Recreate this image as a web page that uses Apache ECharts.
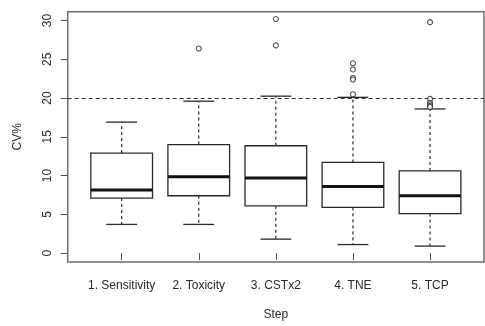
<!DOCTYPE html>
<html><head><meta charset="utf-8">
<script src="https://cdn.jsdelivr.net/npm/echarts@6/dist/echarts.min.js"></script>
<style>html,body{margin:0;padding:0;background:#fff}#c{width:485px;height:326px}</style>
</head><body><div id="c"></div>
<script>
const categories = ['1. Sensitivity', '2. Toxicity', '3. CSTx2', '4. TNE', '5. TCP'];
const lowerWhisker = [3.7, 3.7, 1.8, 1.1, 0.9];
const q1 = [7.1, 7.4, 6.1, 5.9, 5.1];
const median = [8.15, 9.85, 9.7, 8.6, 7.4];
const q3 = [12.9, 14.0, 13.85, 11.7, 10.6];
const upperWhisker = [16.9, 19.6, 20.25, 20.1, 18.6];
const outlierCat = [2, 3, 3, 4, 4, 4, 4, 4, 5, 5, 5, 5, 5, 5];
const outlierVal = [26.4, 30.2, 26.8, 24.5, 23.7, 22.6, 22.4, 20.5, 29.8, 19.9, 19.4, 19.2, 19.0, 18.85];
const yTicks = [0, 5, 10, 15, 20, 25, 30];
const xTicks = [1, 2, 3, 4, 5];
const threshold = 20;

const boxData = categories.map((c, i) => [i + 1, lowerWhisker[i], q1[i], median[i], q3[i], upperWhisker[i]]);
const outData = outlierCat.map((c, i) => [c, outlierVal[i]]);

const chart = echarts.init(document.getElementById('c'), null, {renderer: 'canvas'});
const font = 'Liberation Sans, Arial, sans-serif';
const ink = '#2a2a2a';

chart.setOption({
  animation: false,
  grid: {left: 67.7, right: 1, top: 11.7, bottom: 59.3, show: true, borderColor: '#6e6e6e', borderWidth: 1.5, backgroundColor: 'transparent'},
  xAxis: {
    type: 'value', min: 0.3, max: 5.7,
    name: 'Step', nameLocation: 'middle', nameGap: 47,
    nameTextStyle: {fontFamily: font, fontSize: 12, color: ink},
    axisLine: {show: false},
    splitLine: {show: false},
    axisTick: {show: true, length: 7, customValues: xTicks, lineStyle: {color: '#555'}},
    axisLabel: {customValues: xTicks, margin: 18, fontFamily: font, fontSize: 12, color: ink,
      formatter: v => categories[Math.round(v) - 1] || ''}
  },
  yAxis: {
    type: 'value', min: -1.15, max: 31.15,
    name: 'CV%', nameLocation: 'middle', nameGap: 44, nameRotate: 90,
    nameTextStyle: {fontFamily: font, fontSize: 12, color: ink},
    axisLine: {show: false},
    splitLine: {show: false},
    axisTick: {show: true, length: 7, customValues: yTicks, lineStyle: {color: '#555'}},
    axisLabel: {customValues: yTicks, rotate: 90, margin: 14, fontFamily: font, fontSize: 12, color: ink}
  },
  series: [
    {
      type: 'custom',
      data: boxData,
      encode: {x: 0, y: [1, 2, 3, 4, 5]},
      renderItem: function (params, api) {
        const x = api.value(0);
        const bw = api.size([0.8, 0])[0];
        const cw = bw / 2;
        const pLo = api.coord([x, api.value(1)]);
        const pQ1 = api.coord([x, api.value(2)]);
        const pMed = api.coord([x, api.value(3)]);
        const pQ3 = api.coord([x, api.value(4)]);
        const pHi = api.coord([x, api.value(5)]);
        const cx = pMed[0];
        const dashStyle = {stroke: ink, lineWidth: 1.2, lineDash: [3, 3], fill: null};
        const solid = {stroke: ink, lineWidth: 1.3, fill: null};
        return {
          type: 'group',
          children: [
            {type: 'line', shape: {x1: cx, y1: pQ3[1], x2: cx, y2: pHi[1]}, style: dashStyle},
            {type: 'line', shape: {x1: cx, y1: pQ1[1], x2: cx, y2: pLo[1]}, style: dashStyle},
            {type: 'line', shape: {x1: cx - cw / 2, y1: pHi[1], x2: cx + cw / 2, y2: pHi[1]}, style: solid},
            {type: 'line', shape: {x1: cx - cw / 2, y1: pLo[1], x2: cx + cw / 2, y2: pLo[1]}, style: solid},
            {type: 'rect', shape: {x: cx - bw / 2, y: pQ3[1], width: bw, height: pQ1[1] - pQ3[1]}, style: {stroke: ink, lineWidth: 1.3, fill: '#fff'}},
            {type: 'line', shape: {x1: cx - bw / 2, y1: pMed[1], x2: cx + bw / 2, y2: pMed[1]}, style: {stroke: '#111', lineWidth: 3}}
          ]
        };
      }
    },
    {
      type: 'scatter',
      data: outData,
      symbol: 'circle',
      symbolSize: 5,
      itemStyle: {color: '#fff', borderColor: ink, borderWidth: 1.1},
      z: 5,
      markLine: {
        silent: true,
        symbol: 'none',
        label: {show: false},
        lineStyle: {color: '#333', type: [4, 3], width: 1},
        data: [{yAxis: threshold}]
      }
    }
  ]
});
</script>
</body></html>
